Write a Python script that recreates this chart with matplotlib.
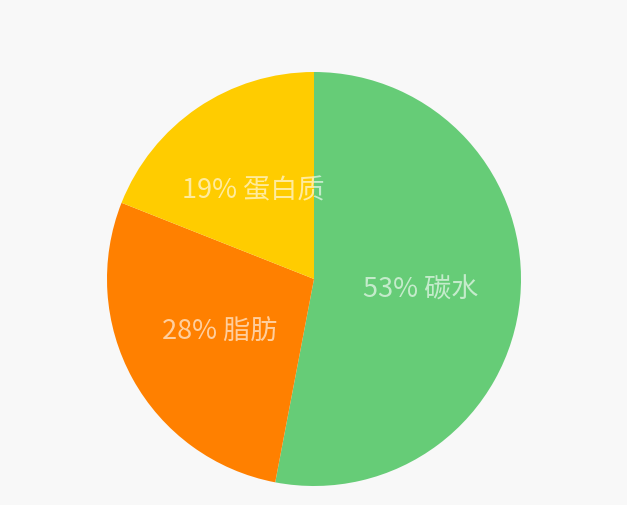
import matplotlib
matplotlib.use("Agg")
import matplotlib.pyplot as plt

categories = ["碳水", "脂肪", "蛋白质"]
values = [53, 28, 19]
colors = ["#66CC77", "#FF8000", "#FFCC00"]

plt.rcParams['font.family'] = ['Noto Sans CJK SC', 'DejaVu Sans']

fig = plt.figure(figsize=(6.27, 5.06), dpi=100)
fig.patch.set_facecolor("#F8F8F8")
W, H = 627, 506
cx, cy, r = 314, 280, 207
ax = fig.add_axes([(cx - r) / W, (H - cy - r) / H, 2 * r / W, 2 * r / H])
ax.set_facecolor("#F8F8F8")

wedges, texts, autotexts = ax.pie(
    values, colors=colors, startangle=90, counterclock=False,
    autopct='%d%%', pctdistance=0.52, radius=1.0,
    wedgeprops=dict(linewidth=0),
    textprops=dict(color="white", alpha=0.62, fontsize=19.5),
)
for t, v, c in zip(autotexts, values, categories):
    t.set_text(f"{v}% {c}")
ax.set_xlim(-1, 1)
ax.set_ylim(-1, 1)
ax.set_aspect("equal")
ax.axis("off")

fig.savefig("out.png", dpi=100, facecolor=fig.get_facecolor())
